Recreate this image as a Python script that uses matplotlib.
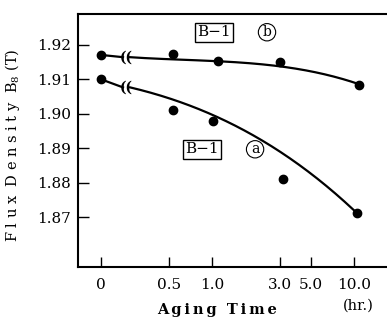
import numpy as np
import matplotlib
matplotlib.use('Agg')
import matplotlib.pyplot as plt

plt.rcParams['font.family'] = 'DejaVu Serif'
plt.rcParams['mathtext.fontset'] = 'dejavuserif'

# Datos medidos (horas, densidad de flujo en T)
tiempo_a = [0.0, 0.53, 1.02, 3.16, 10.5]
flujo_a = [1.9100, 1.9012, 1.8980, 1.8811, 1.8712]
tiempo_b = [0.0, 0.53, 1.1, 3.0, 10.8]
flujo_b = [1.9171, 1.9173, 1.9153, 1.9152, 1.9085]

# Curvas trazadas a mano en la figura original
curva_a_tiempo = [0.265, 0.5, 1.0, 2.0, 3.0, 5.0, 10.5]
curva_a_flujo = [1.9077, 1.9045, 1.8995, 1.8939, 1.8890, 1.8823, 1.8712]
curva_b_tiempo = [0.265, 0.82, 1.85, 3.06, 5.8, 10.8]
curva_b_flujo = [1.9164, 1.9158, 1.9143, 1.9137, 1.9121, 1.9085]

ticks_x = [0.0, 0.5, 1.0, 3.0, 5.0, 10.0]
etiquetas_x = ['0', '0.5', '1.0', '3.0', '5.0', '10.0']
ticks_y = [1.87, 1.88, 1.89, 1.90, 1.91, 1.92]

POS_CERO = -0.78
CORTE_IZQ = -0.627
CORTE_DER = -0.577


def pos(t):
    t = np.asarray(t, dtype=float)
    return np.where(t > 0, np.log10(np.where(t > 0, t, 1.0)), POS_CERO)


fig = plt.figure(figsize=(3.87, 3.22), dpi=100)
ax = fig.add_axes([78 / 387, 55 / 322, 309 / 387, 253 / 322])


def dibujar(tiempo, flujo, ct, cf):
    coef = np.polyfit(pos(ct), cf, 3)
    xs = np.linspace(CORTE_DER, pos(ct)[-1], 200)
    ax.plot(xs, np.polyval(coef, xs), color='black', lw=1.6)
    y_corte = np.polyval(coef, CORTE_DER)
    ax.plot([POS_CERO, CORTE_IZQ], [flujo[0], y_corte], color='black', lw=1.6)
    ax.text((CORTE_IZQ + CORTE_DER) / 2, y_corte, '((', fontsize=10,
            fontweight='bold', ha='center', va='center')
    ax.plot(pos(tiempo), flujo, 'o', color='black', ms=6)


dibujar(tiempo_a, flujo_a, curva_a_tiempo, curva_a_flujo)
dibujar(tiempo_b, flujo_b, curva_b_tiempo, curva_b_flujo)

caja = dict(boxstyle='square,pad=0.15', fc='white', ec='black', lw=1)
circ = dict(boxstyle='circle,pad=0.12', fc='white', ec='black', lw=0.8)
ax.text(0.011, 1.9237, 'B−1', fontsize=11, ha='center', va='center', bbox=caja)
ax.text(0.387, 1.9237, 'b', fontsize=10, ha='center', va='center', bbox=circ)
ax.text(-0.070, 1.8897, 'B−1', fontsize=11, ha='center', va='center', bbox=caja)
ax.text(0.303, 1.8897, 'a', fontsize=10, ha='center', va='center', bbox=circ)

ax.set_xlim(-0.944, 1.232)
ax.set_ylim(1.8555, 1.929)
ax.set_xticks(pos(ticks_x))
ax.set_xticklabels(etiquetas_x)
ax.set_yticks(ticks_y)
ax.set_yticklabels(['%.2f' % v for v in ticks_y])
ax.tick_params(axis='both', direction='in', labelsize=11, width=1)
ax.tick_params(axis='y', length=8, pad=5)
ax.tick_params(axis='x', length=7, pad=8)
ax.spines['right'].set_visible(False)
for s in ['left', 'bottom', 'top']:
    ax.spines[s].set_linewidth(1.5)

fig.text(13 / 387, 1 - 145 / 322, 'F l u x  D e n s i t y  B$_8$ (T)',
         rotation=90, fontsize=10.5, ha='center', va='center')
fig.text(217 / 387, 1 - 310 / 322, '\u2009'.join('Aging') + '  ' + '\u2009'.join('Time'),
         fontsize=10.5, fontweight='bold', ha='center', va='center')
fig.text(358 / 387, 1 - 306 / 322, '(hr.)', fontsize=10.5,
         ha='center', va='center')

fig.savefig('out.png', dpi=100)
